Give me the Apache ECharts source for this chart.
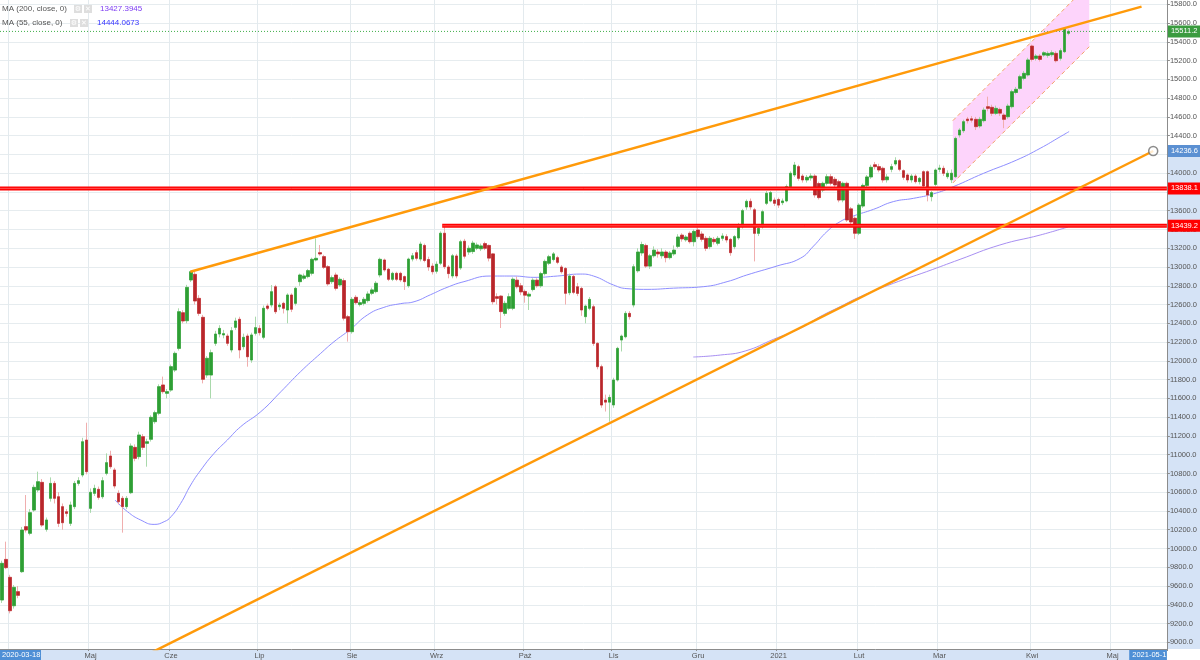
<!DOCTYPE html>
<html><head><meta charset="utf-8">
<script src="https://cdn.jsdelivr.net/npm/echarts@6/dist/echarts.min.js"></script>
<style>html,body{margin:0;padding:0;background:#fff;}#c{width:1200px;height:660px;}</style>
</head><body><div id="c"></div>
<script>
// ---------- data ----------
const firstTradingDay = '2020-03-30';
const holidays = ['2020-04-10','2020-04-13','2020-05-01','2020-12-24','2020-12-25','2020-12-31','2021-01-01','2021-04-02','2021-04-05'];
const categoryCount = 290;
const monthNames = ['Sty','Lut','Mar','Kwi','Maj','Cze','Lip','Sie','Wrz','Paź','Lis','Gru'];
const yTicks = [9000,9200,9400,9600,9800,10000,10200,10400,10600,10800,11000,11200,11400,11600,11800,12000,12200,12400,12600,12800,13000,13200,13400,13600,13800,14000,14200,14400,14600,14800,15000,15200,15400,15600,15800];
const yMin = 8929, yMax = 15846;
// [open, close, low, high]
const candles = [
[9451,9842,9420,9870],[9884,9796,9780,10073],[9693,9337,9309,9720],[9390,9586,9360,9610],[9540,9501,9470,9600],
[9753,10197,9740,10230],[10233,10197,10170,10570],[10162,10382,10140,10420],[10410,10652,10390,10680],[10624,10712,10600,10819],
[10705,10250,10230,10740],[10204,10304,10180,10330],[10535,10694,10500,10758],[10694,10535,10480,10720],[10552,10268,10230,10600],
[10446,10275,10200,10480],[10392,10374,10340,10420],[10268,10464,10240,10500],[10446,10694,10420,10720],[10694,10723,10670,10760],
[10783,11138,10760,11180],[11156,10819,10790,11341],[10428,10599,10380,10640],[10588,10641,10560,10680],[10631,10545,10520,10660],
[10552,10723,10530,10760],[10801,10915,10780,11014],[10986,10872,10850,11042],[10837,10666,10640,10860],[10588,10499,10470,10620],
[10535,10446,10169,10560],[10446,10535,10420,10560],[10595,11092,10580,11120],[11078,10961,10930,11110],[10979,11210,10950,11245],
[11192,11078,11050,11220],[11121,11138,10872,11170],[11164,11398,11140,11420],[11352,11448,11330,11470],[11441,11725,11420,11750],
[11743,11672,11650,11832],[11654,11672,11600,11700],[11689,11938,11670,11960],[11902,12080,11880,12100],[12133,12524,12110,12560],
[12513,12425,12400,12540],[12428,12783,12400,12810],[12862,12950,12840,12960],[12922,12638,12600,12950],[12666,12506,12480,12700],
[12464,11803,11760,12490],[11849,12027,11820,12050],[11849,12087,11600,12120],[12187,12286,12160,12320],[12286,12346,12250,12380],
[12276,12290,12240,12330],[12265,12187,12160,12290],[12116,12322,12090,12360],[12357,12425,12330,12460],[12443,12116,12027,12470],
[12151,12251,12120,12290],[12265,12044,11938,12290],[12009,12276,11980,12300],[12293,12354,12270,12471],[12346,12300,12270,12380],
[12251,12560,12230,12590],[12585,12560,12540,12610],[12595,12737,12570,12808],[12790,12524,12500,12810],[12577,12595,12540,12620],
[12613,12560,12505,12630],[12542,12702,12400,12720],[12702,12550,12520,12720],[12613,12773,12590,12790],[12844,12915,12800,12930],
[12880,12905,12860,12930],[12898,12962,12880,12980],[12933,13082,12910,13100],[13075,13093,13060,13306],[13153,13139,13120,13235],
[13111,12997,12980,13130],[13004,12820,12800,13020],[12844,12887,12820,12910],[12915,12773,12750,12940],[12809,12869,12790,12890],
[12855,12454,12430,12880],[12471,12311,12205,12490],[12311,12656,12290,12680],[12677,12620,12600,12700],[12600,12620,12580,12650],
[12613,12656,12590,12680],[12642,12713,12620,12740],[12720,12756,12700,12780],[12738,12827,12720,12850],[12915,13082,12890,13100],
[13075,12969,12950,13090],[12976,12869,12850,12990],[12869,12933,12850,12950],[12933,12869,12850,12950],[12933,12862,12840,12950],
[12898,12844,12756,12910],[12800,13085,12780,13100],[13085,13120,13060,13150],[13153,13093,13070,13180],[13085,13245,13060,13270],
[13230,13070,13050,13250],[13080,13000,12960,13110],[13010,12950,12920,13040],[12955,13030,12930,13060],[13040,13360,13020,13380],
[13360,13004,12980,13448],[13000,12930,12880,13020],[12905,13120,12880,13140],[13118,12905,12880,13140],[12990,13270,12970,13290],
[13275,13115,13090,13300],[13160,13200,13130,13230],[13165,13255,13140,13280],[13200,13235,13180,13260],[13195,13225,13170,13250],
[13250,13200,13180,13270],[13230,13095,13060,13240],[13140,12630,12600,13150],[12684,12666,12600,12720],[12690,12525,12350,12700],
[12506,12613,12480,12640],[12560,12684,12540,12720],[12560,12870,12540,12890],[12860,12790,12770,12900],[12800,12735,12700,12830],
[12740,12700,12620,12760],[12690,12710,12542,12730],[12760,12860,12740,12880],[12860,12800,12780,12880],[12800,12930,12780,12950],
[12930,13060,12910,13080],[13040,13110,13020,13130],[13080,13140,13060,13160],[13100,13050,13030,13120],[13000,12950,12930,13020],
[12985,12720,12600,13000],[12726,12904,12700,12930],[12900,12730,12710,12920],[12790,12719,12690,12830],[12772,12542,12480,12790],
[12471,12584,12400,12600],[12560,12655,12540,12680],[12577,12186,12160,12600],[12186,11938,11910,12200],[11938,11529,11500,11960],
[11582,11560,11460,11640],[11560,11610,11351,11640],[11530,11796,11500,11820],[11796,12133,11780,12150],[12222,12264,12100,12280],
[12257,12506,12240,12530],[12506,12471,12440,12530],[12595,13003,12570,13030],[12960,13160,12940,13200],[13150,13240,13120,13270],
[13230,13010,12990,13250],[13010,13120,12980,13140],[13120,13180,13100,13220],[13160,13140,13100,13190],[13120,13160,13090,13200],
[13160,13100,13050,13180],[13100,13150,13080,13170],[13140,13180,13120,13230],[13220,13320,13200,13350],[13340,13300,13270,13360],
[13290,13320,13270,13340],[13360,13270,13250,13380],[13270,13380,13220,13400],[13395,13324,13300,13420],[13352,13295,13270,13380],
[13306,13199,13170,13330],[13217,13306,13190,13330],[13295,13270,13240,13320],[13253,13306,13230,13330],[13306,13331,13280,13360],
[13324,13288,13260,13350],[13295,13153,13120,13310],[13217,13324,13190,13340],[13310,13448,13290,13470],[13430,13601,13410,13620],
[13640,13700,13610,13720],[13700,13640,13610,13730],[13610,13359,13060,13630],[13359,13412,13330,13440],[13430,13590,13410,13610],
[13679,13786,13660,13810],[13704,13793,13690,13810],[13714,13679,13650,13740],[13720,13660,13630,13740],[13686,13704,13660,13730],
[13704,13857,13690,13880],[13857,13999,13840,14020],[13981,14087,13960,14120],[14070,13945,13920,14090],[13970,13928,13900,13990],
[13928,13956,13900,13980],[13950,13970,13920,14000],[13970,13768,13740,13990],[13890,13740,13720,13910],[13821,13892,13800,13910],
[13892,13963,13870,13990],[13963,13892,13870,13990],[13935,13874,13850,13960],[13910,13714,13690,13930],[13714,13892,13690,13910],
[13892,13501,13480,13910],[13620,13480,13440,13640],[13520,13360,13300,13540],[13360,13660,13340,13680],[13650,13870,13630,13890],
[13870,13960,13850,13980],[13960,14063,13940,14090],[14090,14070,14040,14120],[14070,14034,14010,14100],[14052,13928,13900,14070],
[13930,13960,13900,13990],[14041,14070,14010,14100],[14098,14134,14080,14170],[14134,14041,14020,14150],[14027,13956,13930,14040],
[13981,13928,13900,14000],[13928,13970,13900,13990],[13970,13910,13890,13990],[13910,13945,13880,13960],[14016,13864,13840,14030],
[14016,13768,13700,14030],[13750,13793,13700,13810],[13880,14034,13860,14050],[14041,14055,14010,14090],[14052,13999,13970,14080],
[13963,13999,13940,14030],[13930,14000,13895,14040],[13963,14371,13950,14390],[14407,14460,14380,14480],[14453,14549,14430,14570],
[14577,14560,14530,14600],[14580,14565,14540,14610],[14574,14496,14460,14600],[14503,14574,14480,14600],[14560,14673,14540,14700],
[14709,14691,14660,14816],[14702,14638,14610,14730],[14638,14691,14620,14720],[14680,14640,14610,14700],[14620,14574,14480,14640],
[14602,14716,14580,14740],[14709,14869,14690,14890],[14860,14894,14840,14920],[14904,15029,14890,15050],[15011,15064,14990,15090],
[15047,15207,15030,15230],[15355,15213,15190,15370],[15224,15249,15200,15270],[15249,15213,15190,15270],[15259,15284,15240,15300],
[15256,15277,15230,15300],[15263,15284,15240,15310],[15277,15199,15180,15300],[15224,15306,15200,15330],[15295,15533,15280,15545],
[15491,15511,15470,15530]
];
// moving averages: [bar position, value]
const ma55 = [[28.1,10517],[31.2,10392],[34.5,10303],[37.8,10257],[40.3,10286],[42,10339],[44.4,10481],[46.9,10677],[49.4,10836],[52.7,11014],[56,11156],[59.3,11298],[64.3,11458],[69.3,11671],[74.2,11885],[79.2,12080],[82.5,12204],[86.6,12336],[90.8,12489],[94.9,12570],[99.1,12610],[102.4,12630],[106.5,12705],[110.6,12783],[114.8,12844],[121.4,12904],[127.2,12904],[132.2,12890],[138,12904],[143.7,12925],[147,12904],[152,12808],[155.3,12770],[160.3,12762],[166.9,12775],[174.4,12791],[180.2,12844],[185.1,12915],[192.6,13011],[198.4,13093],[201.7,13224],[205,13377],[208.3,13484],[211.6,13544],[216.6,13615],[221.5,13697],[226.5,13732],[231.5,13780],[236.4,13856],[243.9,13998],[252.2,14141],[258,14265],[263,14389],[265.2,14444]];
const ma200 = [[171.8,12041],[178.5,12062],[184.7,12105],[191.7,12229],[198.4,12347],[203.3,12471],[208.3,12578],[213.3,12684],[221.5,12826],[229.8,12951],[238.1,13082],[248,13235],[258,13341],[264.9,13427]];
const ma200Last = '13427.3945', ma55Last = '14444.0673';
// drawings
const resistance = 13838.1, support = 13439.2, supportStart = 109.4, lastPrice = 15511.2;
const upperTrend = [[46.8,12950],[283.2,15775]];
const lowerTrend = [[-8,7922],[286.1,14236.6]];
const channelLower = [[236.3,13896],[270.2,15348]];
const channelUpper = [[236.3,14560],[270.2,16017]];
const rangeStartLabel = '2020-03-18', rangeEndLabel = '2021-05-14';

// ---------- categories (trading days) ----------
const categories = [];
{
  const d = new Date(firstTradingDay + 'T00:00:00Z');
  while (categories.length < categoryCount) {
    const s = d.toISOString().slice(0, 10), w = d.getUTCDay();
    if (w !== 0 && w !== 6 && holidays.indexOf(s) < 0) categories.push(s);
    d.setUTCDate(d.getUTCDate() + 1);
  }
}
const monthStart = categories.map((c, i) => i > 0 && c.slice(5, 7) !== categories[i - 1].slice(5, 7));
const monthLabel = v => { const m = +v.slice(5, 7); return m === 1 ? v.slice(0, 4) : monthNames[m - 1]; };

const UP = '#2e9f34', DOWN = '#b8262b', UPW = '#a9d9ab', DOWNW = '#f0aeae';
const bodies = candles.map(c => [c[0], c[1], Math.min(c[0], c[1]), Math.max(c[0], c[1])]);
const FONT = 'Liberation Sans';
const N = categoryCount;
const AX = 7.5;

const option = {
  animation: false,
  backgroundColor: '#ffffff',
  grid: { left: 0, right: 31, top: 0, bottom: 11, containLabel: false },
  xAxis: [
    { type: 'category', data: categories, boundaryGap: true,
      axisLine: { show: true, lineStyle: { color: '#8c8c8c' } },
      axisTick: { show: true, interval: i => monthStart[i], length: 2, lineStyle: { color: '#8c8c8c' } },
      axisLabel: { interval: i => monthStart[i] && i > 10, formatter: monthLabel, fontSize: AX, color: '#555', margin: 3, fontFamily: FONT },
      splitLine: { show: true, interval: i => monthStart[i], lineStyle: { color: '#e3eaee', width: 1 } } },
    { type: 'value', min: -0.5, max: N - 0.5, show: false }
  ],
  yAxis: { type: 'value', position: 'right', min: yMin, max: yMax,
    axisLine: { show: true, onZero: false, lineStyle: { color: '#8c8c8c' } },
    axisTick: { show: true, length: 3, customValues: yTicks, lineStyle: { color: '#8c8c8c' } },
    axisLabel: { customValues: yTicks, formatter: v => v.toFixed(1), fontSize: AX, color: '#555', margin: 3, fontFamily: FONT },
    splitLine: { show: true, lineStyle: { color: '#e6ecef', width: 1 } } },
  series: [
    { type: 'custom', xAxisIndex: 1, yAxisIndex: 0, z: 1, silent: true, data: [channelLower[0]],
      renderItem: (p, api) => ({ type: 'polygon',
        shape: { points: [channelLower[0], channelLower[1], channelUpper[1], channelUpper[0]].map(q => api.coord(q)) },
        style: { fill: '#fdd4fb' } }) },
    { type: 'line', xAxisIndex: 1, data: ma200, smooth: true, showSymbol: false, z: 2, silent: true,
      lineStyle: { color: '#a88ff2', width: 1 } },
    { type: 'line', xAxisIndex: 1, data: ma55, smooth: true, showSymbol: false, z: 2, silent: true,
      lineStyle: { color: '#8e8eff', width: 1 } },
    { type: 'candlestick', data: candles, barWidth: 3, z: 3, silent: true,
      itemStyle: { color: UPW, color0: DOWNW, borderColor: UPW, borderColor0: DOWNW, borderWidth: 1 } },
    { type: 'candlestick', data: bodies, barWidth: 3, z: 4, silent: true,
      itemStyle: { color: UP, color0: DOWN, borderColor: UP, borderColor0: DOWN, borderWidth: 0.6 } },
    { type: 'line', xAxisIndex: 1, data: [[-0.5, lastPrice], [N - 0.5, lastPrice]], showSymbol: false, z: 5, silent: true,
      lineStyle: { color: '#3fae49', width: 1, type: [1, 2] } },
    { type: 'line', xAxisIndex: 1, data: [[-0.5, resistance], [N - 0.5, resistance]], showSymbol: false, z: 5, silent: true,
      lineStyle: { color: '#ff0000', width: 4 } },
    { type: 'line', xAxisIndex: 1, data: [[-0.5, resistance], [N - 0.5, resistance]], showSymbol: false, z: 5, silent: true,
      lineStyle: { color: '#ff5050', width: 1 } },
    { type: 'line', xAxisIndex: 1, data: [[supportStart, support], [N - 0.5, support]], showSymbol: false, z: 5, silent: true,
      lineStyle: { color: '#ff0000', width: 4 } },
    { type: 'line', xAxisIndex: 1, data: [[supportStart, support], [N - 0.5, support]], showSymbol: false, z: 5, silent: true,
      lineStyle: { color: '#ff5050', width: 1 } },
    { type: 'line', xAxisIndex: 1, data: channelLower, showSymbol: false, z: 6, silent: true,
      lineStyle: { color: '#f4a167', width: 1, type: [4, 3] } },
    { type: 'line', xAxisIndex: 1, data: channelUpper, showSymbol: false, z: 6, silent: true,
      lineStyle: { color: '#f4a167', width: 1, type: [4, 3] } },
    { type: 'line', xAxisIndex: 1, data: upperTrend, showSymbol: false, z: 6, silent: true,
      lineStyle: { color: '#ff9a0a', width: 2.5 } },
    { type: 'line', xAxisIndex: 1, data: lowerTrend, showSymbol: false, z: 6, silent: true,
      lineStyle: { color: '#ff9a0a', width: 2.5 } },
    { type: 'scatter', xAxisIndex: 1, data: [lowerTrend[1]], symbol: 'circle', symbolSize: 9, z: 7, silent: true,
      itemStyle: { color: '#ffffff', borderColor: '#6f6f6f', borderWidth: 1.5 } }
  ]
};

const chart = echarts.init(document.getElementById('c'));
chart.setOption(option);

const px = v => chart.convertToPixel({ xAxisIndex: 1 }, v);
const py = v => chart.convertToPixel({ yAxisIndex: 0 }, v);
const gL = px(-0.5), gR = px(N - 0.5), gB = py(yMin), W = 1200, H = 660;
const TOP = { zlevel: 1, z: 100 };
const tag = (v, color, txt) => ({ type: 'group', ...TOP, children: [
  { type: 'rect', ...TOP, shape: { x: gR + 1, y: py(v) - 6, width: W - gR, height: 12 }, style: { fill: color } },
  { type: 'text', ...TOP, x: gR + 4, y: py(v), style: { text: txt, fill: '#fff', font: AX + 'px ' + FONT, verticalAlign: 'middle' } } ] });
const endX = px(lowerTrend[1][0]);
const icon = (x, y, ch) => ({ type: 'group', ...TOP, children: [
  { type: 'rect', ...TOP, shape: { x: x, y: y, width: 8, height: 8 }, style: { fill: '#dedede' } },
  { type: 'text', ...TOP, x: x + 4, y: y + 4.3, style: { text: ch, fill: '#ffffff', font: 'bold 7px DejaVu Sans', align: 'center', verticalAlign: 'middle' } } ] });

chart.setOption({ graphic: [
  { type: 'rect', z: -1, shape: { x: gL, y: gB + 0.5, width: gR - gL, height: H - gB }, style: { fill: '#d5e3f6' } },
  { type: 'rect', z: -1, shape: { x: gR + 0.5, y: py(lowerTrend[1][1]) - 6, width: W - gR, height: gB - py(lowerTrend[1][1]) + 6 }, style: { fill: '#d5e3f6' } },
  { type: 'group', ...TOP, children: [
    { type: 'rect', ...TOP, shape: { x: 0, y: gB + 1, width: 41, height: H - gB - 1 }, style: { fill: '#4e8fd6' } },
    { type: 'text', ...TOP, x: 2, y: gB + 6, style: { text: rangeStartLabel, fill: '#fff', font: AX + 'px ' + FONT, verticalAlign: 'middle' } } ] },
  { type: 'group', ...TOP, children: [
    { type: 'rect', ...TOP, shape: { x: endX - 24, y: gB + 1, width: gR - endX + 24, height: H - gB - 1 }, style: { fill: '#4e8fd6' } },
    { type: 'text', ...TOP, x: endX - 21, y: gB + 6, style: { text: rangeEndLabel, fill: '#fff', font: AX + 'px ' + FONT, verticalAlign: 'middle', width: gR - endX + 23, overflow: 'truncate', ellipsis: '' } } ] },
  tag(lastPrice, '#3a9b3f', lastPrice.toFixed(1)),
  tag(lowerTrend[1][1], '#5b90d2', lowerTrend[1][1].toFixed(1)),
  tag(resistance, '#ff0000', resistance.toFixed(1)),
  tag(support, '#ff0000', support.toFixed(1)),
  { type: 'text', ...TOP, x: 2, y: 9, style: { text: 'MA (200, close, 0)', fill: '#555', font: '8px ' + FONT, verticalAlign: 'middle' } },
  icon(74, 5, '⚙'), icon(84, 5, '✕'),
  { type: 'text', ...TOP, x: 100, y: 9, style: { text: ma200Last, fill: '#7d3cf2', font: '8px ' + FONT, verticalAlign: 'middle' } },
  { type: 'text', ...TOP, x: 2, y: 23, style: { text: 'MA (55, close, 0)', fill: '#555', font: '8px ' + FONT, verticalAlign: 'middle' } },
  icon(70, 19, '⚙'), icon(80, 19, '✕'),
  { type: 'text', ...TOP, x: 97, y: 23, style: { text: ma55Last, fill: '#3535ff', font: '8px ' + FONT, verticalAlign: 'middle' } }
] });
</script></body></html>
